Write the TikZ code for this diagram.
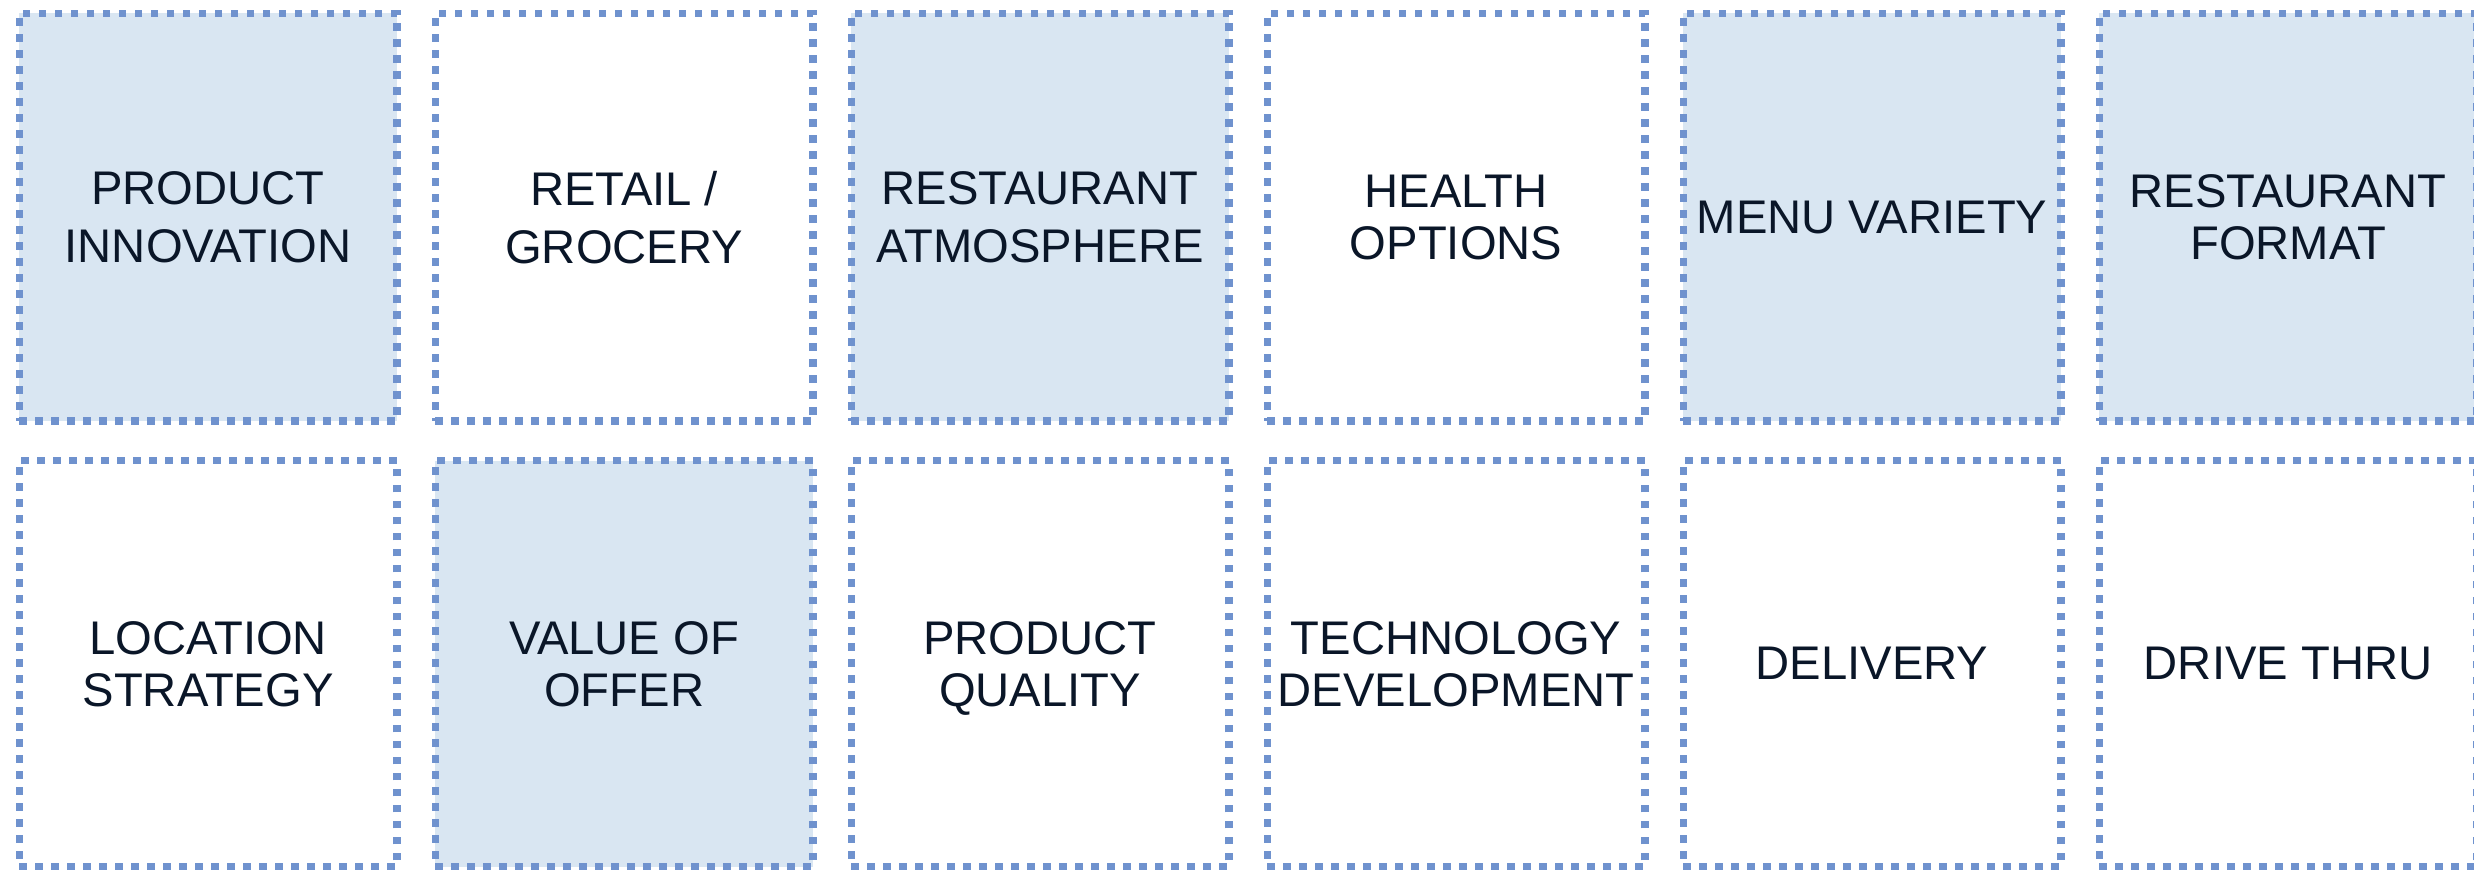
\documentclass[tikz,border=0pt]{standalone}
\usepackage{fontspec}
\setmainfont{Liberation Sans}
\definecolor{boxline}{HTML}{6F92CE}
\definecolor{boxfill}{HTML}{D9E6F2}
\definecolor{boxtext}{HTML}{0A1628}
\tikzset{
  tile/.style={rectangle, draw=boxline, line width=3.65pt,
    dash pattern=on 3.65pt off 4.35pt, inner sep=0pt, text depth=0pt,
    minimum width=188.8pt, align=center, text=boxtext},
  tilefilled/.style={tile, fill=boxfill},
  tileplain/.style={tile, fill=white},
  rowone/.style={minimum height=203.85pt},
  rowtwo/.style={minimum height=203pt},
  wide/.style={font=\fontsize{23.6pt}{28.75pt}\selectfont},
  tight/.style={font=\fontsize{23.6pt}{26pt}\selectfont},
}
\begin{document}
\begin{tikzpicture}[x=0.5pt,y=-0.5pt]
\clip (0,0) rectangle (2474,870);
\fill[white] (0,0) rectangle (2474,870);
% row 1
\node[tilefilled,rowone,wide] (pi) at (208.1,217.2) {PRODUCT\\INNOVATION};
\node[tileplain,rowone,wide] (rg) at (624.1,217.2) {RETAIL /\\GROCERY};
\node[tilefilled,rowone,wide] (ra) at (1040.1,217.2) {RESTAURANT\\ATMOSPHERE};
\node[tileplain,rowone,tight] (ho) at (1456.1,217.2) {HEALTH\\OPTIONS};
\node[tilefilled,rowone,tight] (mv) at (1872.1,217.2) {MENU VARIETY};
\node[tilefilled,rowone,tight] (rf) at (2288.1,217.2) {RESTAURANT\\FORMAT};
% row 2
\node[tileplain,rowtwo,tight] (ls) at (208.1,663.7) {LOCATION\\STRATEGY};
\node[tilefilled,rowtwo,tight] (vo) at (624.1,663.7) {VALUE OF\\OFFER};
\node[tileplain,rowtwo,tight] (pq) at (1040.1,663.7) {PRODUCT\\QUALITY};
\node[tileplain,rowtwo,tight] (td) at (1456.1,663.7) {TECHNOLOGY\\DEVELOPMENT};
\node[tileplain,rowtwo,tight] (dl) at (1872.1,663.7) {DELIVERY};
\node[tileplain,rowtwo,tight] (dt) at (2288.1,663.7) {DRIVE THRU};
\end{tikzpicture}
\end{document}
